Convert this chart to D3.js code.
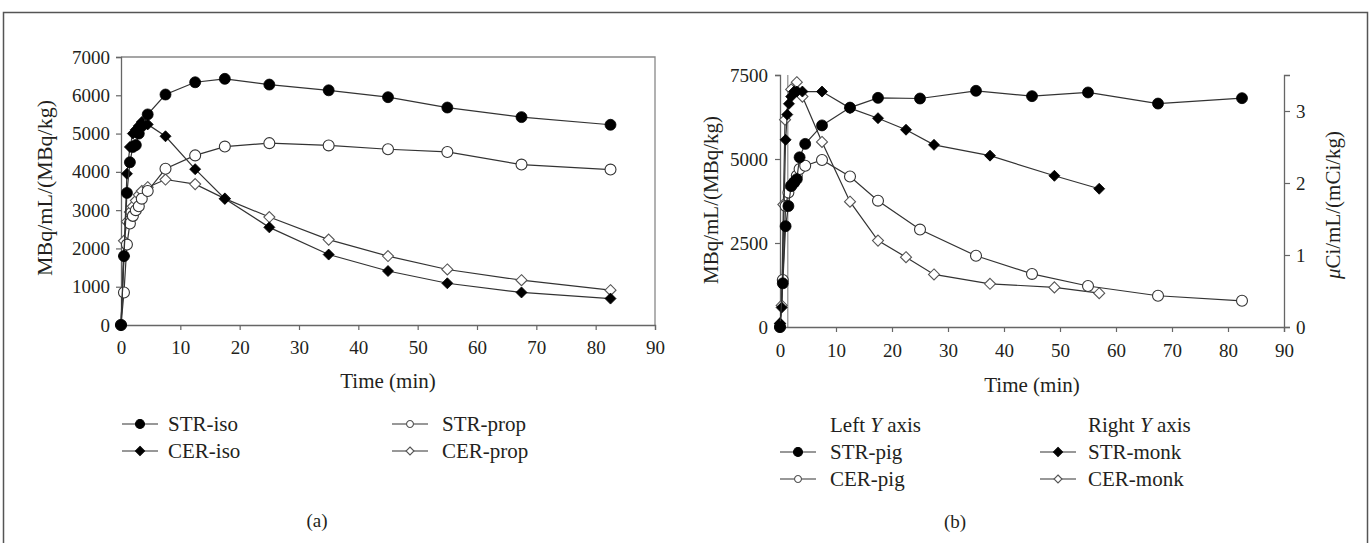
<!DOCTYPE html>
<html>
<head>
<meta charset="utf-8">
<script src="https://cdn.jsdelivr.net/npm/d3@7"></script>
<style>
  body { margin: 0; background: #fff; }
  svg { font-family: "Liberation Serif", "DejaVu Serif", serif; }
</style>
</head>
<body>
<svg id="chart" width="1372" height="543"></svg>
<script>
// ---- data: [time (min), value] ----
// panel (a), MBq/mL/(MBq/kg)
const strIso = [[0,0],[0.5,1800],[1,3450],[1.5,4250],[2,4650],[2.5,4700],[3,5000],[3.5,5200],[4.5,5500],[7.5,6020],[12.5,6340],[17.5,6430],[25,6280],[35,6130],[45,5950],[55,5680],[67.5,5430],[82.5,5230]]
const strProp = [[0,0],[0.5,850],[1,2100],[1.5,2650],[2,2850],[2.5,3000],[3,3100],[3.5,3300],[4.5,3500],[7.5,4080],[12.5,4430],[17.5,4660],[25,4750],[35,4690],[45,4590],[55,4520],[67.5,4190],[82.5,4060]]
const cerIso = [[0,0],[0.5,1800],[1,3950],[1.5,4650],[2,5000],[2.5,5100],[3,5200],[3.5,5300],[4.5,5240],[7.5,4930],[12.5,4070],[17.5,3300],[25,2550],[35,1840],[45,1410],[55,1090],[67.5,850],[82.5,690]]
const cerProp = [[0,0],[0.5,2200],[1,2700],[1.5,2950],[2,3100],[2.5,3250],[3,3400],[3.5,3500],[4.5,3600],[7.5,3800],[12.5,3680],[17.5,3300],[25,2820],[35,2230],[45,1800],[55,1450],[67.5,1170],[82.5,910]]

// panel (b), pig on left axis (MBq/mL/(MBq/kg)), monkey on right axis (uCi/mL/(mCi/kg))
const strPig = [[0,0],[0.5,1300],[1,3000],[1.5,3600],[2,4200],[2.5,4300],[3,4400],[3.5,5050],[4.5,5450],[7.5,6000],[12.5,6530],[17.5,6820],[25,6800],[35,7030],[45,6870],[55,6980],[67.5,6650],[82.5,6810]]
const cerPig = [[0,0],[0.5,1400],[1,3600],[1.5,4000],[2,4200],[2.5,4300],[3,4500],[3.5,4700],[4.5,4800],[7.5,4970],[12.5,4480],[17.5,3760],[25,2900],[35,2120],[45,1580],[55,1220],[67.5,930],[82.5,780]]
const strMonk = [[0,0.05],[0.3,0.27],[1,2.6],[1.3,2.95],[1.6,3.1],[2,3.2],[2.5,3.27],[3,3.27],[4,3.27],[7.5,3.27],[12.5,3.04],[17.5,2.9],[22.5,2.74],[27.5,2.53],[37.5,2.38],[49,2.1],[57,1.92]]
const cerMonk = [[0,0.05],[0.3,0.3],[0.6,1.7],[0.9,2.88],[2,3.3],[3,3.4],[4,3.2],[7.5,2.57],[12.5,1.74],[17.5,1.2],[22.5,0.97],[27.5,0.73],[37.5,0.6],[49,0.55],[57,0.47]]
const markTime = 1.4

const timeTicks = d3.range(0, 91, 10)
const leftTicksA = d3.range(0, 7001, 1000)
const leftTicksB = [0, 2500, 5000, 7500]
const rightTicksB = [0, 1, 2, 3]

const svg = d3.select("#chart")
const ink = "#231f20"
const axisGrey = "#666"

// outer frame
svg.append("rect")
    .attr("x", 3.5).attr("y", 12.5)
    .attr("width", 1364).attr("height", 532)
    .attr("fill", "none").attr("stroke", "#555").attr("stroke-width", 1.5)

// scales
const xA = d3.scaleLinear().domain([0, 90]).range([121, 655])
const yA = d3.scaleLinear().domain([0, 7000]).range([325, 57])
const xB = d3.scaleLinear().domain([0, 90]).range([780, 1284])
const yBL = d3.scaleLinear().domain([0, 7500]).range([327, 75])
const yBR = d3.scaleLinear().domain([0, 3.5]).range([327, 75])

function diamond(r) {
    return `M0,${-r}L${r},0L0,${r}L${-r},0Z`
}

function styleAxis(g, size) {
    g.select(".domain").attr("stroke", axisGrey).attr("stroke-width", 1.3)
    g.selectAll(".tick line").attr("stroke", axisGrey).attr("stroke-width", 1.2)
    g.selectAll(".tick text")
        .attr("fill", ink)
        .attr("font-size", size + "px")
        .attr("font-family", "Liberation Serif, DejaVu Serif, serif")
}

function drawSeries(g, data, x, y, shape, filled) {
    g.append("path")
        .datum(data)
        .attr("fill", "none")
        .attr("stroke", "#333")
        .attr("stroke-width", 1.2)
        .attr("d", d3.line().x(d => x(d[0])).y(d => y(d[1])))

    const pts = g.append("g").selectAll("path")
        .data(data)
        .enter()
        .append("path")
            .attr("transform", d => `translate(${x(d[0])},${y(d[1])})`)
            .attr("d", shape == "circle" ? d3.symbol(d3.symbolCircle, Math.PI * 30)() : diamond(5.5))
    if (filled) {
        pts.attr("fill", "#000").attr("stroke", "#000").attr("stroke-width", 0.8)
    } else {
        pts.attr("fill", "#fff").attr("stroke", shape == "circle" ? "#333" : "#555").attr("stroke-width", 1.1)
    }
}

function legendItem(g, x, y, label, shape, filled, textX) {
    g.append("line")
        .attr("x1", x - 18).attr("x2", x + 18).attr("y1", y).attr("y2", y)
        .attr("stroke", "#333").attr("stroke-width", 1.2)
    g.append("path")
        .attr("transform", `translate(${x},${y})`)
        .attr("d", shape == "circle" ? d3.symbol(d3.symbolCircle, Math.PI * (filled ? 20 : 12))() : diamond(filled ? 4.5 : 4))
        .attr("fill", filled ? "#000" : "#fff")
        .attr("stroke", filled ? "#000" : "#555")
        .attr("stroke-width", 1.1)
    g.append("text")
        .attr("x", textX).attr("y", y + 7)
        .attr("font-size", "21px").attr("fill", ink)
        .text(label)
}

// ---------------- panel (a) ----------------
const ga = svg.append("g")

// top and right frame lines
ga.append("path")
    .attr("d", `M${xA(0)},${yA(7000)}H${xA(90)}V${yA(0)}`)
    .attr("fill", "none").attr("stroke", "#888").attr("stroke-width", 1.3)

ga.append("g")
    .attr("transform", `translate(0,${yA(0)})`)
    .call(d3.axisBottom(xA).tickValues(timeTicks).tickSize(5).tickPadding(11).tickFormat(d3.format("d")))
    .call(g => styleAxis(g, 19))

ga.append("g")
    .attr("transform", `translate(${xA(0)},0)`)
    .call(d3.axisLeft(yA).tickValues(leftTicksA).tickSize(5).tickPadding(6).tickFormat(d3.format("d")))
    .call(g => styleAxis(g, 19))

drawSeries(ga, cerProp, xA, yA, "diamond", false)
drawSeries(ga, strProp, xA, yA, "circle", false)
drawSeries(ga, cerIso, xA, yA, "diamond", true)
drawSeries(ga, strIso, xA, yA, "circle", true)

ga.append("text")
    .attr("x", (xA(0) + xA(90)) / 2).attr("y", 388)
    .attr("text-anchor", "middle").attr("font-size", "21px").attr("fill", ink)
    .text("Time (min)")

ga.append("text")
    .attr("transform", "translate(52,188) rotate(-90)")
    .attr("text-anchor", "middle").attr("font-size", "22px").attr("fill", ink)
    .text("MBq/mL/(MBq/kg)")

legendItem(ga, 140, 424, "STR-iso", "circle", true, 168)
legendItem(ga, 140, 451, "CER-iso", "diamond", true, 168)
legendItem(ga, 410, 424, "STR-prop", "circle", false, 442)
legendItem(ga, 410, 451, "CER-prop", "diamond", false, 442)

ga.append("text")
    .attr("x", 317).attr("y", 527)
    .attr("text-anchor", "middle").attr("font-size", "19px").attr("fill", ink)
    .text("(a)")

// ---------------- panel (b) ----------------
const gb = svg.append("g")

gb.append("line")
    .attr("x1", xB(markTime)).attr("x2", xB(markTime))
    .attr("y1", yBL(0)).attr("y2", yBL(7500))
    .attr("stroke", "#777").attr("stroke-width", 1)

gb.append("g")
    .attr("transform", `translate(0,${yBL(0)})`)
    .call(d3.axisBottom(xB).tickValues(timeTicks).tickSize(5).tickPadding(12).tickFormat(d3.format("d")))
    .call(g => styleAxis(g, 19))

gb.append("g")
    .attr("transform", `translate(${xB(0)},0)`)
    .call(d3.axisLeft(yBL).tickValues(leftTicksB).tickSize(5).tickPadding(7).tickFormat(d3.format("d")))
    .call(g => styleAxis(g, 19))

gb.append("g")
    .attr("transform", `translate(${xB(90)},0)`)
    .call(d3.axisRight(yBR).tickValues(rightTicksB).tickSize(6).tickPadding(6).tickFormat(d3.format("d")))
    .call(g => styleAxis(g, 19))

drawSeries(gb, cerMonk, xB, yBR, "diamond", false)
drawSeries(gb, cerPig, xB, yBL, "circle", false)
drawSeries(gb, strMonk, xB, yBR, "diamond", true)
drawSeries(gb, strPig, xB, yBL, "circle", true)

gb.append("text")
    .attr("x", (xB(0) + xB(90)) / 2).attr("y", 392)
    .attr("text-anchor", "middle").attr("font-size", "21px").attr("fill", ink)
    .text("Time (min)")

gb.append("text")
    .attr("transform", "translate(718,200) rotate(-90)")
    .attr("text-anchor", "middle").attr("font-size", "21px").attr("fill", ink)
    .text("MBq/mL/(MBq/kg)")

const rt = gb.append("text")
    .attr("transform", "translate(1340,205) rotate(-90)")
    .attr("text-anchor", "middle").attr("font-size", "21px").attr("fill", ink)
rt.append("tspan").attr("font-style", "italic").text("μ")
rt.append("tspan").text("Ci/mL/(mCi/kg)")

gb.append("text")
    .attr("x", 830).attr("y", 432)
    .attr("font-size", "21px").attr("fill", ink)
    .html('Left <tspan font-style="italic">Y</tspan> axis')
gb.append("text")
    .attr("x", 1088).attr("y", 432)
    .attr("font-size", "21px").attr("fill", ink)
    .html('Right <tspan font-style="italic">Y</tspan> axis')

legendItem(gb, 798, 452, "STR-pig", "circle", true, 830)
legendItem(gb, 798, 479, "CER-pig", "circle", false, 830)
legendItem(gb, 1058, 452, "STR-monk", "diamond", true, 1088)
legendItem(gb, 1058, 479, "CER-monk", "diamond", false, 1088)

gb.append("text")
    .attr("x", 955).attr("y", 528)
    .attr("text-anchor", "middle").attr("font-size", "19px").attr("fill", ink)
    .text("(b)")
</script>
</body>
</html>
